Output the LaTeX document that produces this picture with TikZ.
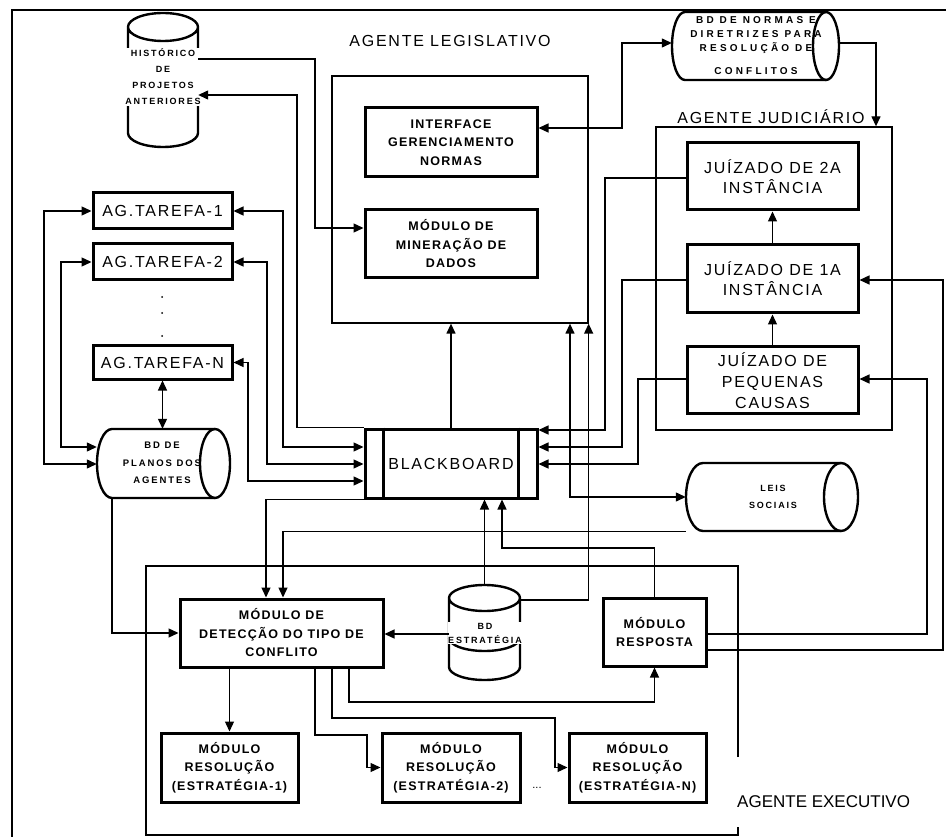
\documentclass[tikz,border=0pt]{standalone}
\usepackage{fontspec}
\setmainfont{Liberation Sans}
\newfontfamily\bigfam{Liberation Sans}[LetterSpace=11]
\newfontfamily\medfam{Liberation Sans}[LetterSpace=10]
\newfontfamily\tinyfam{Liberation Sans}[LetterSpace=20]
\newfontfamily\normfam{Liberation Sans}[LetterSpace=32]
\newfontfamily\plainfam{Liberation Sans}
\usetikzlibrary{arrows.meta}
\begin{document}
\begin{tikzpicture}[x=1pt,y=-1pt,
  box/.style={draw, line width=3pt, inner sep=0pt, align=center},
  thinbox/.style={draw, line width=1.3pt, inner sep=0pt},
  hole/.style={inner sep=0pt},
  cyl/.style={line width=2.4pt},
  conn/.style={line width=1.3pt},
  arr/.style={conn, -{Triangle[length=10pt,width=9pt]}},
  darr/.style={conn, {Triangle[length=10pt,width=9pt]}-{Triangle[length=10pt,width=9pt]}},
  bigf/.style={font=\bigfam\fontsize{16}{20}\selectfont},
  medf/.style={font=\medfam\bfseries\fontsize{12.5}{18.5}\selectfont},
  tinyf/.style={font=\tinyfam\bfseries\fontsize{9}{16}\selectfont, align=center, inner sep=0.5pt},
  normf/.style={font=\normfam\bfseries\fontsize{10}{14}\selectfont, align=center, inner sep=0pt},
]
\useasboundingbox (0,0) rectangle (946,837);

% outer frame
\draw[line width=2pt] (12,837) -- (12,10) -- (946,10);

% agent frames and labels
\node[thinbox, minimum width=256pt, minimum height=247pt] (leg) at (460,199.5) {};
\node[thinbox, minimum width=236pt, minimum height=303pt] (jud) at (774,278.5) {};
\draw[line width=1.3pt] (738,757) -- (738,566) -- (146,566) -- (146,835) -- (738,835) -- (738,827);
\node[bigf] (lleg) at (450,41) {AGENTE LEGISLATIVO};
\node[bigf] (ljud) at (771,117) {AGENTE JUDICIÁRIO};
\node[font=\plainfam\fontsize{17}{20}\selectfont, anchor=west, inner sep=0pt] (lexe) at (737,802) {AGENTE EXECUTIVO};

% legislative modules
\node[box, medf, minimum width=172pt, minimum height=69pt] (iface) at (451,142.5) {INTERFACE\\GERENCIAMENTO\\NORMAS};
\node[box, medf, minimum width=172pt, minimum height=68pt] (mine) at (451,244) {MÓDULO DE\\MINERAÇÃO DE\\DADOS};

% judiciary modules
\node[box, bigf, minimum width=171pt, minimum height=67pt] (j2a) at (772.5,176.5) {JUÍZADO DE 2A\\INSTÂNCIA};
\node[box, bigf, minimum width=171pt, minimum height=68pt] (j1a) at (772.5,279) {JUÍZADO DE 1A\\INSTÂNCIA};
\node[box, minimum width=171pt, minimum height=66pt] (jpc) at (772.5,380) {};
\node[font=\bigfam\fontsize{16}{21}\selectfont, align=center, fill=white, inner sep=0.5pt] (jpct) at (772.5,381) {JUÍZADO DE\\PEQUENAS\\CAUSAS};

% blackboard
\node[box, bigf, minimum width=172pt, minimum height=69pt] (bb) at (451,463.5) {BLACKBOARD};
\draw[line width=3pt] (bb.north -| 383,0) -- (bb.south -| 383,0);
\draw[line width=3pt] (bb.north -| 518,0) -- (bb.south -| 518,0);

% task agents
\node[box, bigf, minimum width=139pt, minimum height=36pt] (ag1) at (162.5,211) {AG.TAREFA-1};
\node[box, bigf, minimum width=139pt, minimum height=36pt] (ag2) at (162.5,262) {AG.TAREFA-2};
\node[box, bigf, minimum width=139pt, minimum height=33pt] (agn) at (162.5,362.5) {AG.TAREFA-N};
\fill (162,297) circle[radius=1pt];
\fill (162,313) circle[radius=1pt];
\fill (162,336) circle[radius=1pt];

% executive modules
\node[box, medf, minimum width=203pt, minimum height=68pt] (det) at (281.5,633) {MÓDULO DE\\DETECÇÃO DO TIPO DE\\CONFLITO};
\node[box, medf, minimum width=103pt, minimum height=68pt] (resp) at (654.5,632) {MÓDULO\\RESPOSTA};
\node[box, medf, minimum width=137pt, minimum height=69pt] (res1) at (229.5,767.5) {MÓDULO\\RESOLUÇÃO\\(ESTRATÉGIA-1)};
\node[box, medf, minimum width=138pt, minimum height=69pt] (res2) at (451,767.5) {MÓDULO\\RESOLUÇÃO\\(ESTRATÉGIA-2)};
\node[box, medf, minimum width=137pt, minimum height=69pt] (resn) at (637.5,767.5) {MÓDULO\\RESOLUÇÃO\\(ESTRATÉGIA-N)};
\node[font=\plainfam\fontsize{11}{12}\selectfont, inner sep=0pt] (dots) at (537,788) {...};

% cylinders
\node[hole, minimum width=70pt, minimum height=134pt] (hist) at (163,80) {};
\draw[cyl] (128,27) -- (128,133) arc[start angle=180,end angle=360,x radius=35pt,y radius=14pt] -- (198,27) arc[start angle=0,end angle=360,x radius=35pt,y radius=14pt];
\node[tinyf, fill=white] (histt) at (163,77) {HISTÓRICO\\DE\\PROJETOS\\ANTERIORES};

\node[hole, minimum width=168pt, minimum height=68pt] (norm) at (756,46) {};
\draw[cyl] (826,12) -- (685,12) arc[start angle=90,end angle=270,x radius=13pt,y radius=34pt] -- (826,80);
\draw[cyl] (826,46) ellipse[x radius=13pt, y radius=34pt];
\node[normf] (normt) at (756,46) {BD DE NORMAS E\\DIRETRIZES PARA\\RESOLUÇÃO DE\\[9pt]CONFLITOS};

\node[hole, minimum width=133pt, minimum height=69pt] (plan) at (163.5,463.5) {};
\draw[cyl] (215,429) -- (112,429) arc[start angle=90,end angle=270,x radius=15pt,y radius=34.5pt] -- (215,498);
\draw[cyl] (215,463.5) ellipse[x radius=15pt, y radius=34.5pt];
\node[tinyf, font=\tinyfam\bfseries\fontsize{9.5}{17.5}\selectfont] (plant) at (162,463) {BD DE\\PLANOS DOS\\AGENTES};

\node[hole, minimum width=172pt, minimum height=68pt] (leis) at (772,497) {};
\draw[cyl] (841,463) -- (703,463) arc[start angle=90,end angle=270,x radius=17pt,y radius=34pt] -- (841,531);
\draw[cyl] (841,497) ellipse[x radius=17pt, y radius=34pt];
\node[tinyf, font=\tinyfam\bfseries\fontsize{9}{17}\selectfont] (leist) at (773,497) {LEIS\\SOCIAIS};

\node[hole, minimum width=71pt, minimum height=95pt] (estr) at (484.5,632.5) {};
\draw[cyl] (449,598) -- (449,667) arc[start angle=180,end angle=360,x radius=35.5pt,y radius=13pt] -- (520,598) arc[start angle=0,end angle=360,x radius=35.5pt,y radius=13pt];
\draw[cyl] (449,638) arc[start angle=180,end angle=360,x radius=35.5pt,y radius=13pt];
\node[tinyf, fill=white, font=\tinyfam\bfseries\fontsize{9}{14}\selectfont] (estrt) at (485,633) {BD\\ESTRATÉGIA};

% connectors: legislative
\draw[arr] (hist.east |- 0,59) -| (315,228) -- (mine.west |- 0,228);
\draw[arr] (bb.north west) -| (297,95) -- (hist.east |- 0,95);
\draw[darr] (norm.west |- 0,43) -| (622,128) -- (iface.east |- 0,128);
\draw[arr] (norm.east |- 0,43) -| (jud.north -| 876,0);
\draw[arr] (bb.north) -- (bb.north |- leg.south);
\draw[darr] (leis.west) -| (leg.south -| 570,0);
\draw[arr] (estr.east |- 0,600) -| (leg.south east);

% connectors: judiciary
\draw[arr] (j2a.west |- 0,178) -| (605,430) -- (bb.east |- 0,430);
\draw[arr] (j1a.west |- 0,280) -| (622,447) -- (bb.east |- 0,447);
\draw[arr] (jpc.west |- 0,379) -| (638,464) -- (bb.east |- 0,464);
\draw[arr] (jpc.north) -- (j1a.south);
\draw[arr] (j1a.north) -- (j2a.south);
\draw[arr] (resp.east |- 0,650) -| (943,280) -- (j1a.east |- 0,280);
\draw[arr] (resp.east |- 0,634) -| (927,379) -- (jpc.east |- 0,379);

% connectors: task agents
\draw[darr] (ag1.east) -| (283,447) -- (bb.west |- 0,447);
\draw[darr] (ag2.east) -| (267,464) -- (bb.west |- 0,464);
\draw[darr] (agn.east) -| (248,481) -- (bb.west |- 0,481);
\draw[darr] (ag1.west) -| (44,464) -- (plan.west |- 0,464);
\draw[darr] (ag2.west) -| (61,447) -- (plan.west |- 0,447);
\draw[darr] (agn.south) -- (agn.south |- plan.north);

% connectors: executive
\draw[arr] (plan.south -| 112,0) |- (det.west);
\draw[arr] (bb.south west) -| (det.north -| 266,0);
\draw[arr] (leis.south west) -| (det.north -| 283,0);
\draw[arr] (estr.north) -- (estr.north |- bb.south);
\draw[arr] (resp.north) |- (502,548) -- (bb.south -| 502,0);
\draw[arr] (estr.west |- 0,634) -- (det.east |- 0,634);
\draw[arr] (det.south -| res1.north) -- (res1.north);
\draw[arr] (det.south -| 315,0) |- (367,735) |- (res2.west);
\draw[arr] (det.south -| 332,0) |- (555,718) |- (resn.west);
\draw[arr] (det.south -| 349,0) |- (resp.south |- 0,702) -- (resp.south);
\end{tikzpicture}
\end{document}
